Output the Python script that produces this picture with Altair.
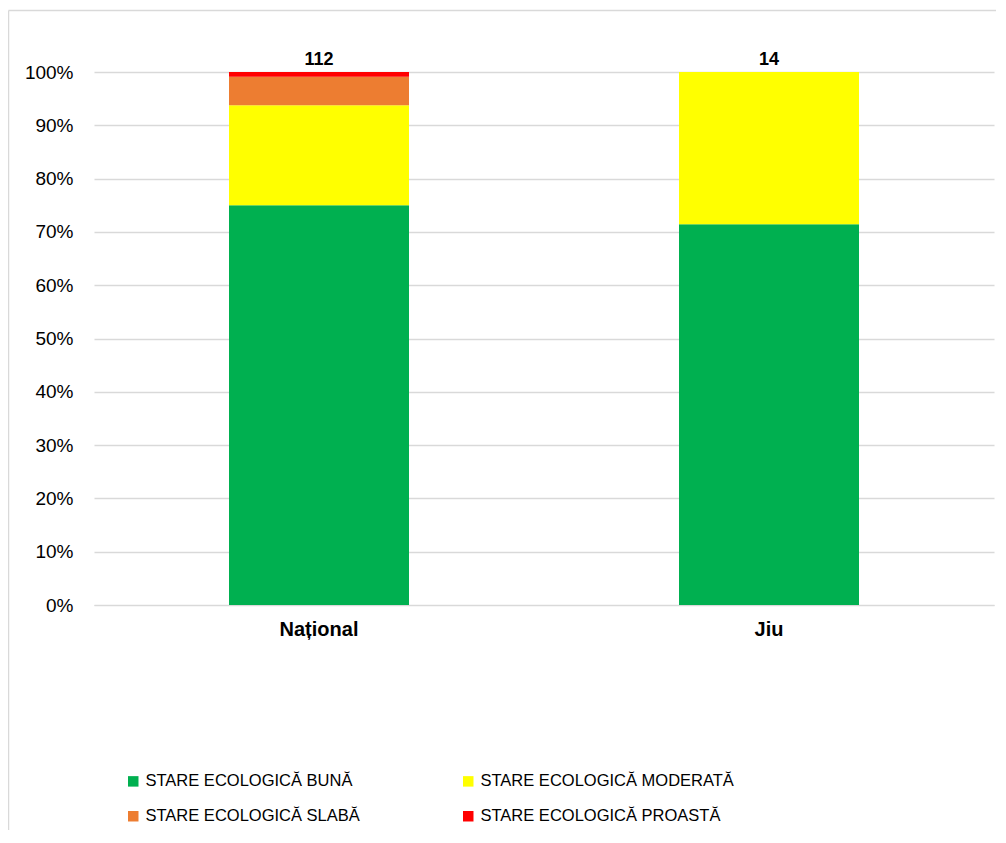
import altair as alt
import pandas as pd

categories = ["Național", "Jiu"]
states = [
    "STARE ECOLOGICĂ BUNĂ",
    "STARE ECOLOGICĂ MODERATĂ",
    "STARE ECOLOGICĂ SLABĂ",
    "STARE ECOLOGICĂ PROASTĂ",
]
colors = ["#00b050", "#ffff00", "#ed7d31", "#ff0000"]
counts_national = [84, 21, 6, 1]
counts_jiu = [10, 4, 0, 0]
totals = [112, 14]

rows = []
for cat, counts in zip(categories, [counts_national, counts_jiu]):
    for i, (s, c) in enumerate(zip(states, counts)):
        rows.append({"cat": cat, "state": s, "count": c, "order": i})
df = pd.DataFrame(rows)
df_tot = pd.DataFrame({"cat": categories, "total": totals})

FONT = "Liberation Sans"

xenc = alt.X(
    "cat:N",
    sort=categories,
    title=None,
    scale=alt.Scale(paddingInner=0.6, paddingOuter=0.3),
    axis=alt.Axis(
        labelAngle=0,
        labelFontWeight="bold",
        labelFontSize=20,
        labelColor="#000000",
        labelPadding=14,
        ticks=False,
        domainColor="#d9d9d9",
        grid=False,
    ),
)

bars = alt.Chart(df).mark_bar().encode(
    x=xenc,
    y=alt.Y(
        "count:Q",
        stack="normalize",
        title=None,
        scale=alt.Scale(domain=[0, 1]),
        axis=alt.Axis(
            format=".0%",
            values=[i / 10 for i in range(11)],
            labelFontSize=19,
            labelColor="#000000",
            labelPadding=21,
            ticks=False,
            domain=False,
            gridColor="#d9d9d9",
            gridWidth=1.3,
        ),
    ),
    color=alt.Color(
        "state:N",
        scale=alt.Scale(domain=states, range=colors),
        legend=alt.Legend(
            title=None,
            orient="none",
            direction="horizontal",
            legendX=31,
            legendY=701,
            padding=0,
            columns=2,
            symbolType="square",
            symbolSize=110,
            symbolStrokeWidth=0,
            labelFontSize=16.5,
            labelFont=FONT,
            labelColor="#000000",
            labelOffset=4,
            columnPadding=100,
            rowPadding=18,
            labelLimit=400,
        ),
    ),
    order=alt.Order("order:Q"),
)

labels = alt.Chart(df_tot).mark_text(
    fontWeight="bold", fontSize=18, baseline="alphabetic", dy=-7, color="#000000", font=FONT
).encode(
    x=alt.X("cat:N", sort=categories),
    y=alt.datum(1.0),
    text="total:Q",
)

frame_top = alt.Chart(alt.Data(values=[{"a": 1}])).mark_rule(
    stroke="#d9d9d9", strokeWidth=1.5
).encode(
    x=alt.value(-85.5),
    x2=alt.value(930),
    y=alt.value(-61.5),
)

frame_left = alt.Chart(alt.Data(values=[{"a": 1}])).mark_rule(
    stroke="#d9d9d9", strokeWidth=1.5
).encode(
    x=alt.value(-85.5),
    y=alt.value(-61.5),
    y2=alt.value(800),
)

chart = (
    alt.layer(frame_top, frame_left, bars, labels)
    .properties(
        width=900,
        height=533,
        padding={"left": 86, "top": 64, "right": 2, "bottom": 225},
        autosize=alt.AutoSizeParams(type="none"),
    )
    .configure(font=FONT)
    .configure_view(stroke=None)
)

chart.save("out.html", embed_options={"renderer": "svg", "actions": False})
